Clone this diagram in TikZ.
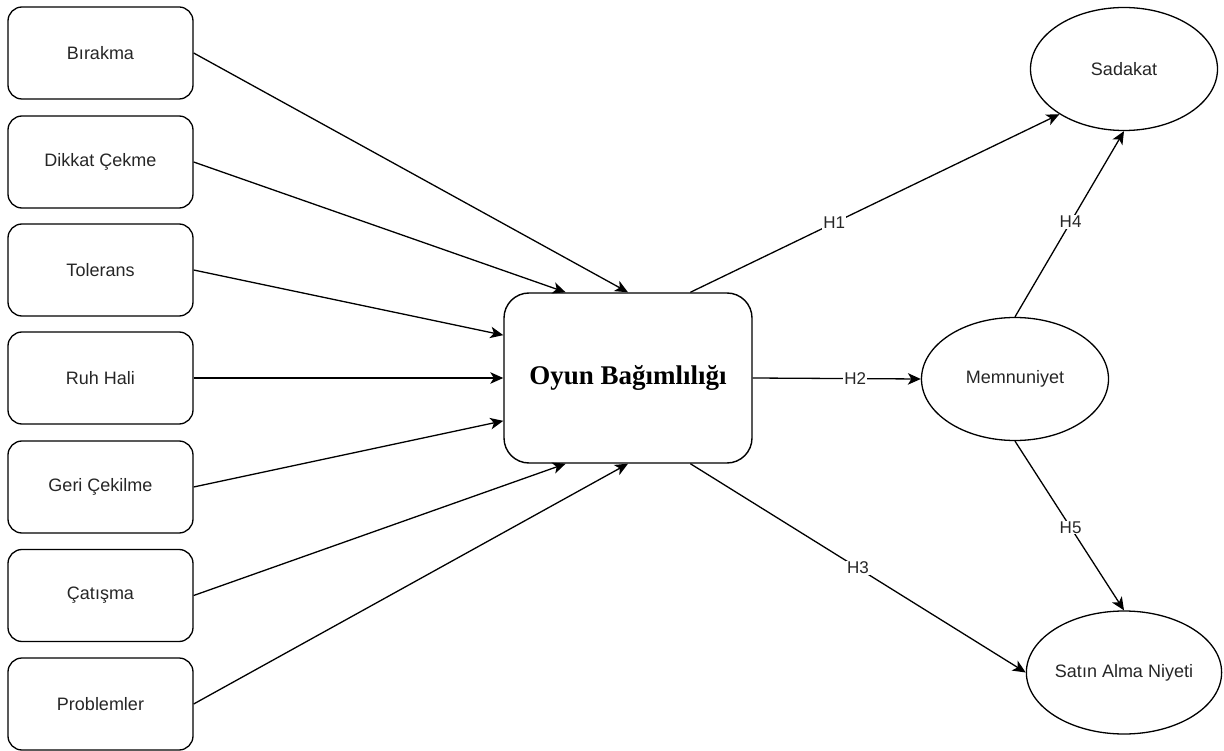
\documentclass[tikz,border=0pt]{standalone}
\usepackage{fontspec}
\setmainfont{Liberation Sans}
\newfontfamily\serifbold{Liberation Serif}
\usetikzlibrary{shapes.geometric,arrows.meta,calc}
\begin{document}
\begin{tikzpicture}[x=1pt,y=-1pt,
  lbox/.style={draw,line width=1.3pt,rounded corners=14pt,minimum width=185pt,minimum height=92pt,inner sep=0pt,font=\fontsize{18}{20}\selectfont,text=black!85},
  cbox/.style={draw,line width=1.4pt,rounded corners=25pt,minimum width=248pt,minimum height=170pt,inner sep=0pt,font=\serifbold\bfseries\fontsize{27}{30}\selectfont},
  ell/.style={draw,ellipse,line width=1.3pt,minimum width=187pt,minimum height=123pt,inner sep=0pt,font=\fontsize{18}{20}\selectfont,text=black!85},
  conn/.style={line width=1.3pt,-{Stealth[length=13pt,width=11.5pt,inset=3.5pt]}},
  hlab/.style={fill=white,inner sep=1pt,font=\fontsize{17}{19}\selectfont,text=black!85}]
\useasboundingbox (0,0) rectangle (1224,751);
\node[lbox] (b1) at (100.5,53) {Bırakma};
\node[lbox] (b2) at (100.5,162) {Dikkat Çekme};
\node[lbox] (b3) at (100.5,270) {Tolerans};
\node[lbox] (b4) at (100.5,378) {Ruh Hali};
\node[lbox] (b5) at (100.5,487) {Geri Çekilme};
\node[lbox] (b6) at (100.5,595.5) {Çatışma};
\node[lbox] (b7) at (100.5,704) {Problemler};
\node[cbox] (c) at (628,378) {Oyun Bağımlılığı};
\node[ell] (sad) at (1124,69) {Sadakat};
\node[ell] (mem) at (1015,379) {Memnuniyet};
\node[ell] (sat) at (1124,672.5) {Satın Alma Niyeti};
\coordinate (ct1) at ($(c.north west)!0.25!(c.north east)$);
\coordinate (ct2) at (c.north);
\coordinate (ct3) at ($(c.north west)!0.75!(c.north east)$);
\coordinate (cl1) at ($(c.north west)!0.25!(c.south west)$);
\coordinate (cl3) at ($(c.north west)!0.75!(c.south west)$);
\coordinate (cb1) at ($(c.south west)!0.25!(c.south east)$);
\coordinate (cb2) at (c.south);
\coordinate (cb3) at ($(c.south west)!0.75!(c.south east)$);
\draw[conn] (b1.east) -- (ct2);
\draw[conn] (b2.east) -- (ct1);
\draw[conn] (b3.east) -- (cl1);
\draw[conn] (b4.east) -- (c.west);
\draw[conn] (b5.east) -- (cl3);
\draw[conn] (b6.east) -- (cb1);
\draw[conn] (b7.east) -- (cb2);
\draw[conn] (ct3) -- node[hlab,pos=0.39] {H1} (sad.-145);
\draw[conn] (c.east) -- node[hlab,pos=0.61] {H2} (mem.west);
\draw[conn] (cb3) -- node[hlab,pos=0.5] {H3} (sat.west);
\draw[conn] (mem.north) -- node[hlab,pos=0.51] {H4} (sad.south);
\draw[conn] (mem.south) -- node[hlab,pos=0.51] {H5} (sat.north);
\end{tikzpicture}
\end{document}
